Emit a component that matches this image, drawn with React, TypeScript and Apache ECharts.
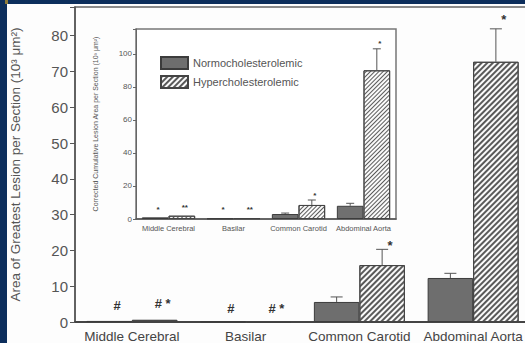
import React, { useEffect, useRef } from "react";
import * as echarts from "echarts";

const categories = ["Middle Cerebral", "Basilar", "Common Carotid", "Abdominal Aorta"];

// Main chart (area of greatest lesion, 10^3 µm^2)
const normoMain = [0.3, 0.1, 5.6, 12.3];
const normoMainErr = [null, null, 7.0, 13.6];
const hyperMain = [0.6, 0.25, 15.9, 72.7];
const hyperMainErr = [null, null, 20.3, 81.9];
const mainYTicks = [0, 10, 20, 30, 40, 50, 60, 70, 80];

// Inset (corrected cumulative lesion area)
const normoInset = [1.0, 0.3, 3.0, 8.0];
const normoInsetErr = [null, null, 3.6, 9.5];
const hyperInset = [2.0, 0.5, 8.5, 90];
const hyperInsetErr = [null, null, 11.5, 103];
const insetYTicks = [0, 20, 40, 60, 80, 100];

// Significance markers: [category, side (0 normo / 1 hyper), y value, text]
const mainMarkCat = [0, 0, 1, 1, 2, 3];
const mainMarkSide = [0, 1, 0, 1, 1, 1];
const mainMarkY = [4.5, 5.3, 3.9, 3.9, 21.5, 84.5];
const mainMarkText = ["#", "# *", "#", "# *", "*", "*"];

const insetMarkCat = [0, 0, 1, 1, 2, 3];
const insetMarkSide = [0, 1, 0, 1, 1, 1];
const insetMarkY = [5.5, 6.7, 5.5, 6.0, 14.5, 106.5];
const insetMarkText = ["*", "**", "*", "**", "*", "*"];

const NORMO = "Normocholesterolemic";
const HYPER = "Hypercholesterolemic";
const FONT = "Liberation Sans, Arial, sans-serif";

function errData(vals: (number | null)[], errs: (number | null)[], side: number) {
  const out: any[] = [];
  vals.forEach((v, i) => {
    const e = errs[i];
    if (e != null && v != null) out.push([i, e, v, side]);
  });
  return out;
}

function makeErrRender(gapFrac: number, cap: number) {
  return (params: any, api: any) => {
    const band = api.size([1, 0])[0];
    const side = api.value(3);
    const off = (side === 0 ? -1 : 1) * (1 - gapFrac) / 4 * band;
    const top = api.coord([api.value(0), api.value(1)]);
    const bot = api.coord([api.value(0), api.value(2)]);
    const x = top[0] + off;
    const st = { stroke: "#555", lineWidth: 1 };
    return {
      type: "group",
      children: [
        { type: "line", shape: { x1: x, y1: top[1], x2: x, y2: bot[1] }, style: st },
        { type: "line", shape: { x1: x - cap, y1: top[1], x2: x + cap, y2: top[1] }, style: st },
      ],
    };
  };
}

function makeMarkRender(gapFrac: number, texts: string[], dx: number, size: number) {
  return (params: any, api: any) => {
    const band = api.size([1, 0])[0];
    const side = api.value(2);
    const off = (side === 0 ? -1 : 1) * (1 - gapFrac) / 4 * band;
    const p = api.coord([api.value(0), api.value(1)]);
    return {
      type: "text",
      x: p[0] + off + dx,
      y: p[1],
      style: {
        text: texts[params.dataIndex],
        fill: "#333",
        font: `bold ${size}px ${FONT}`,
        align: "center",
        verticalAlign: "middle",
      },
    };
  };
}

const hatchMain = {
  symbol: "rect",
  symbolSize: 1,
  dashArrayX: [1, 0],
  dashArrayY: [1.5, 2],
  rotation: -Math.PI / 4,
  color: "#5a5a5a",
};
const hatchInset = {
  symbol: "rect",
  symbolSize: 1,
  dashArrayX: [1, 0],
  dashArrayY: [1, 2],
  rotation: -Math.PI / 4,
  color: "#5a5a5a",
};

export default function App() {
  const ref = useRef<HTMLDivElement>(null);
  useEffect(() => {
    if (!ref.current) return;
    const chart = echarts.init(ref.current, null, { renderer: "svg" });
    const mainGap = 0.2;
    const insetGap = 0.18;
    chart.setOption({
      animation: false,
      backgroundColor: "#fdfdfd",
      textStyle: { fontFamily: FONT },
      legend: {
        data: [NORMO, HYPER],
        orient: "vertical",
        left: 155,
        top: 51,
        itemWidth: 27,
        itemHeight: 12,
        itemGap: 5,
        icon: "rect",
        textStyle: { fontSize: 11, color: "#555", fontFamily: FONT },
      },
      grid: [
        { left: 70, top: 7, right: 5, bottom: 20, show: true, borderColor: "#666", borderWidth: 1.5, backgroundColor: "transparent" },
        { left: 136, top: 29, width: 260, height: 190, show: true, borderColor: "#777", borderWidth: 1.5, backgroundColor: "#fff" },
      ],
      xAxis: [
        {
          type: "category",
          gridIndex: 0,
          data: categories,
          axisTick: { show: false },
          axisLine: { lineStyle: { color: "#444", width: 2 } },
          axisLabel: { fontSize: 13.5, color: "#444", margin: 7, interval: 0 },
        },
        {
          type: "category",
          gridIndex: 1,
          data: categories,
          axisTick: { show: false },
          axisLine: { lineStyle: { color: "#555", width: 1.5 } },
          axisLabel: { fontSize: 7.5, color: "#555", margin: 5, interval: 0 },
        },
      ],
      yAxis: [
        {
          type: "value",
          gridIndex: 0,
          min: 0,
          max: 88,
          interval: 10,
          splitLine: { show: false },
          axisLine: { show: true, lineStyle: { color: "#555", width: 1.5 } },
          axisTick: { show: true, length: 5, lineStyle: { color: "#555" } },
          axisLabel: {
            fontSize: 15,
            color: "#555",
            margin: 7,
            formatter: (v: number) => (mainYTicks.includes(v) ? String(v) : ""),
          },
          name: "Area of Greatest Lesion per Section (10³ μm²)",
          nameLocation: "middle",
          nameGap: 53,
          nameTextStyle: { fontSize: 13.5, color: "#555" },
        },
        {
          type: "value",
          gridIndex: 1,
          min: 0,
          max: 115,
          interval: 20,
          splitLine: { show: false },
          axisLine: { show: true, lineStyle: { color: "#666", width: 1 } },
          axisTick: { show: true, length: 3, lineStyle: { color: "#666" } },
          axisLabel: {
            fontSize: 8,
            color: "#555",
            margin: 4,
            formatter: (v: number) => (insetYTicks.includes(v) ? String(v) : ""),
          },
          name: "Corrected Cumulative Lesion Area per Section (10³ μm²)",
          nameLocation: "middle",
          nameGap: 37,
          nameTextStyle: { fontSize: 7, color: "#555" },
        },
      ],
      series: [
        {
          type: "bar",
          name: NORMO,
          xAxisIndex: 0,
          yAxisIndex: 0,
          data: normoMain,
          barGap: "0%",
          barCategoryGap: "20%",
          itemStyle: { color: "#6e6e6e", borderColor: "#3c3c3c", borderWidth: 1 },
        },
        {
          type: "bar",
          name: HYPER,
          xAxisIndex: 0,
          yAxisIndex: 0,
          data: hyperMain,
          barGap: "0%",
          barCategoryGap: "20%",
          itemStyle: { color: "#fafafa", borderColor: "#444", borderWidth: 1, decal: hatchMain },
        },
        {
          type: "bar",
          name: NORMO,
          xAxisIndex: 1,
          yAxisIndex: 1,
          data: normoInset,
          barGap: "0%",
          barCategoryGap: "18%",
          itemStyle: { color: "#707070", borderColor: "#3c3c3c", borderWidth: 1 },
        },
        {
          type: "bar",
          name: HYPER,
          xAxisIndex: 1,
          yAxisIndex: 1,
          data: hyperInset,
          barGap: "0%",
          barCategoryGap: "18%",
          itemStyle: { color: "#fafafa", borderColor: "#444", borderWidth: 1, decal: hatchInset },
        },
        {
          type: "custom",
          xAxisIndex: 0,
          yAxisIndex: 0,
          renderItem: makeErrRender(mainGap, 6),
          data: [...errData(normoMain, normoMainErr, 0), ...errData(hyperMain, hyperMainErr, 1)],
          z: 3,
        },
        {
          type: "custom",
          xAxisIndex: 1,
          yAxisIndex: 1,
          renderItem: makeErrRender(insetGap, 4),
          data: [...errData(normoInset, normoInsetErr, 0), ...errData(hyperInset, hyperInsetErr, 1)],
          z: 3,
        },
        {
          type: "custom",
          xAxisIndex: 0,
          yAxisIndex: 0,
          renderItem: makeMarkRender(mainGap, mainMarkText, 8, 13),
          data: mainMarkCat.map((c, i) => [c, mainMarkY[i], mainMarkSide[i]]),
          z: 4,
        },
        {
          type: "custom",
          xAxisIndex: 1,
          yAxisIndex: 1,
          renderItem: makeMarkRender(insetGap, insetMarkText, 3, 8),
          data: insetMarkCat.map((c, i) => [c, insetMarkY[i], insetMarkSide[i]]),
          z: 4,
        },
      ],
      graphic: [
        { type: "rect", left: 0, top: 0, z: 100, shape: { width: 535, height: 4 }, style: { fill: "#0c2e5c" } },
        { type: "rect", left: 0, top: 0, z: 100, shape: { width: 7, height: 343 }, style: { fill: "#0c2e5c" } },
        { type: "rect", left: 5, top: 0, z: 101, shape: { width: 3, height: 4 }, style: { fill: "#8c7a3a" } },
      ],
    });
    return () => chart.dispose();
  }, []);
  return (
    <div style={{ position: "fixed", left: 0, top: 0, width: 525, height: 343, overflow: "hidden", background: "#fdfdfd" }}>
      <div ref={ref} style={{ width: 535, height: 343 }} />
    </div>
  );
}
